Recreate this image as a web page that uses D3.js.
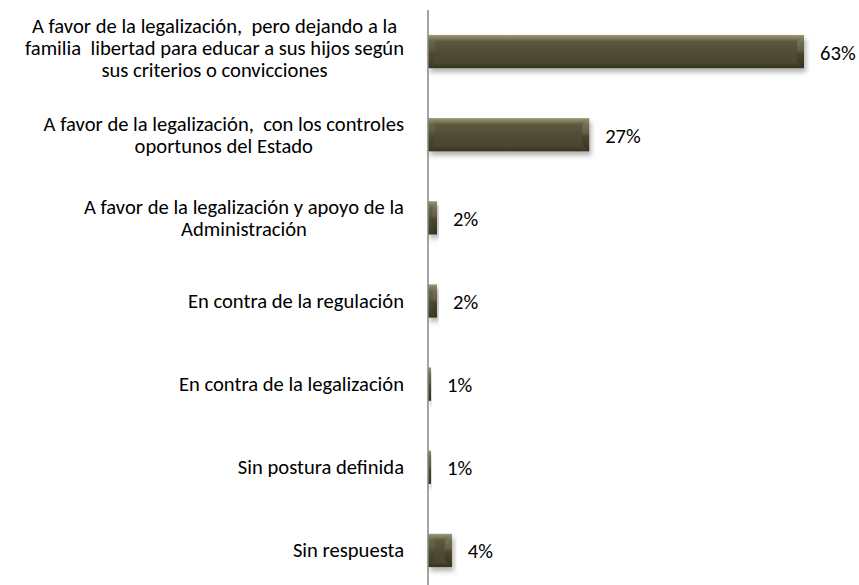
<!DOCTYPE html>
<html><head><meta charset="utf-8">
<script src="https://cdn.jsdelivr.net/npm/d3@7"></script>
<style>
html,body{margin:0;padding:0;background:#fff;}
svg{display:block;}
text{font-family:Carlito,Calibri,Lato,sans-serif;fill:#000;white-space:pre;}
</style></head>
<body>
<svg id="chart" width="859" height="585"></svg>
<script>
const categories = [
  ["A favor de la legalización,  pero dejando a la", "familia  libertad para educar a sus hijos según", "sus criterios o convicciones"],
  ["A favor de la legalización,  con los controles", "oportunos del Estado"],
  ["A favor de la legalización y apoyo de la", "Administración"],
  ["En contra de la regulación"],
  ["En contra de la legalización"],
  ["Sin postura definida"],
  ["Sin respuesta"]
];
const values = [63, 27, 1.5, 1.5, 0.5, 0.5, 4];
const valueLabels = ["63%", "27%", "2%", "2%", "1%", "1%", "4%"];

const svg = d3.select("#chart");
const axisX = 428;
const fs = 20.6;
const x = d3.scaleLinear().domain([0, 63]).range([axisX, 804]);
const ids = d3.range(categories.length);
const y = d3.scaleBand().domain(ids).range([10, 592]).paddingInner(0.6).paddingOuter(0.3);

const defs = svg.append("defs");
const g1 = defs.append("linearGradient").attr("id", "face").attr("x1", 0).attr("y1", 0).attr("x2", 0).attr("y2", 1);
[[0, "#9c9979"], [0.08, "#858162"], [0.2, "#5c583e"], [0.5, "#514d35"], [0.85, "#4a462f"], [1, "#36331f"]]
  .forEach(([o, c]) => g1.append("stop").attr("offset", o).attr("stop-color", c));
const g2 = defs.append("linearGradient").attr("id", "facet").attr("x1", 0).attr("y1", 0).attr("x2", 0).attr("y2", 1);
[[0, "#8d8a6c"], [0.45, "#6a664b"], [0.55, "#47432c"], [1, "#2f2c19"]]
  .forEach(([o, c]) => g2.append("stop").attr("offset", o).attr("stop-color", c));
const f = defs.append("filter").attr("id", "shadow").attr("x", "-10%").attr("y", "-30%").attr("width", "130%").attr("height", "190%");
f.append("feDropShadow").attr("dx", 2).attr("dy", 4).attr("stdDeviation", 2.5).attr("flood-color", "#000").attr("flood-opacity", 0.3);

const bars = svg.append("g");
ids.forEach(i => {
  const x0 = x(0), x1 = x(values[i]), y0 = y(i), h = y.bandwidth();
  const g = bars.append("g");
  g.append("rect").attr("x", x0).attr("y", y0).attr("width", x1 - x0).attr("height", h)
    .attr("fill", "url(#face)").attr("filter", "url(#shadow)");
  const bw = x1 - x0;
  const b = Math.min(7, bw / 2);
  g.append("path").attr("d", `M${x1},${y0} L${x1 - b},${y0 + b} L${x1 - b},${y0 + h - b} L${x1},${y0 + h}Z`)
    .attr("fill", "url(#facet)").attr("opacity", 0.7);
  g.append("path").attr("d", `M${x0},${y0} L${x0 + b},${y0 + b} L${x0 + b},${y0 + h - b} L${x0},${y0 + h}Z`)
    .attr("fill", "url(#facet)").attr("opacity", 0.35);
});

// axis line
svg.append("line").attr("x1", axisX).attr("x2", axisX).attr("y1", 10).attr("y2", 592)
  .attr("stroke", "#868686").attr("stroke-width", 1.5);

// category labels
const lh = 22;
const labG = svg.append("g").attr("font-size", fs);
ids.forEach(i => {
  const lines = categories[i];
  const t = labG.append("g");
  const widths = lines.map(l => {
    const p = t.append("text").text(l);
    const ww = p.node().getComputedTextLength();
    p.remove();
    return ww;
  });
  const maxW = d3.max(widths);
  const right = axisX - 24;
  const cx = right - maxW / 2;
  const cy = y(i) + y.bandwidth() / 2;
  const shift = lines.length > 2 ? 3.5 : 7;
  lines.forEach((l, k) => {
    t.append("text").attr("x", cx).attr("text-anchor", "middle")
      .attr("y", cy + shift + (k - (lines.length - 1) / 2) * lh)
      .text(l);
  });
});

// value labels
svg.append("g").attr("font-size", fs).selectAll("text").data(ids).join("text")
  .attr("x", i => x(values[i]) + 16)
  .attr("y", i => y(i) + y.bandwidth() / 2 + 8)
  .text(i => valueLabels[i]);
</script>
</body></html>
